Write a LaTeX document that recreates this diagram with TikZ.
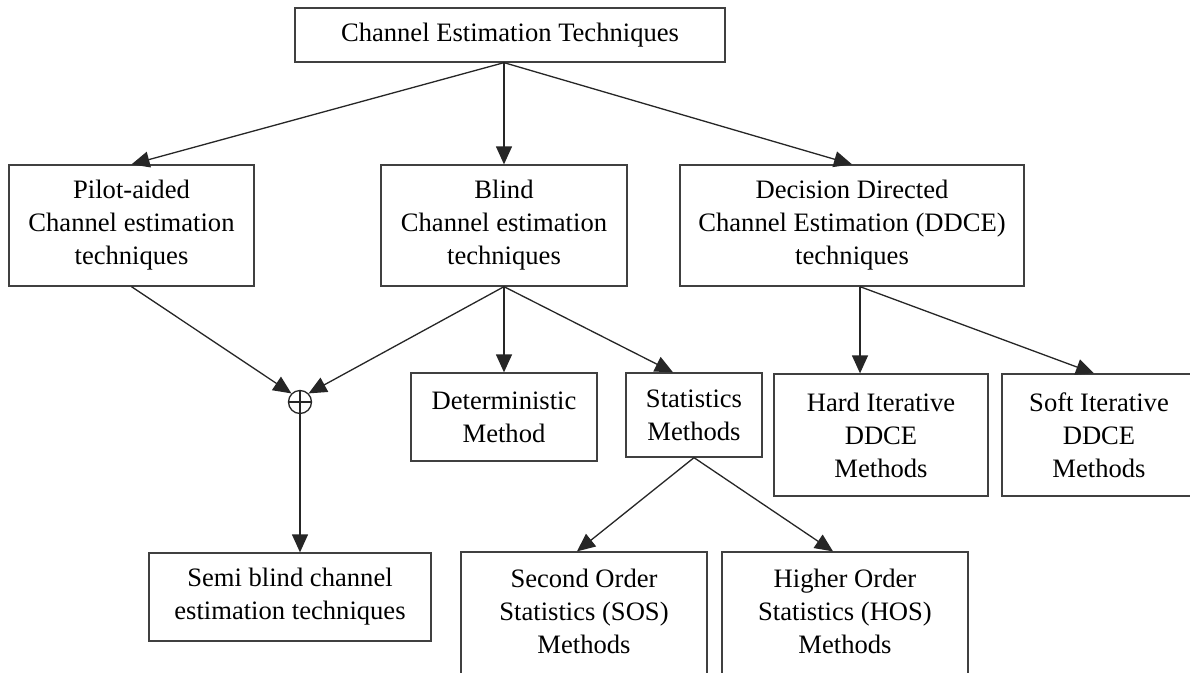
\documentclass[tikz,border=0pt]{standalone}
\usepackage{fontspec}
\setmainfont{Liberation Serif}
\usetikzlibrary{arrows.meta}

\tikzset{
  box/.style = {draw = black!75, line width = 1.3pt, align = center, inner sep = 0pt},
  link/.style = {-{Triangle[length=18pt,width=16pt]}, line width = 1.3pt, draw = black!85},
  junction/.style = {draw = black!85, line width = 1.3pt, circle, minimum size = 23pt, inner sep = 0pt,
    path picture = {\draw[line width = 1.3pt] (path picture bounding box.north) -- (path picture bounding box.south)
      (path picture bounding box.west) -- (path picture bounding box.east);}},
}

\begin{document}
\begin{tikzpicture}[x = 1pt, y = -1pt, font = \fontsize{26.6pt}{33pt}\selectfont]
    \path[use as bounding box, fill = white] (0,0) rectangle (1190,672);

    % first level
    \node[box, minimum width = 430, minimum height = 54](top) at (510,35) {Channel Estimation Techniques};
    \node[box, minimum width = 245, minimum height = 121](pilot) at (131.5,225.5) {Pilot-aided \\ Channel estimation \\ techniques};
    \node[box, minimum width = 246, minimum height = 121](blind) at (504,225.5) {Blind \\ Channel estimation \\ techniques};
    \node[box, minimum width = 344, minimum height = 121](ddce) at (852,225.5) {Decision Directed \\ Channel Estimation (DDCE) \\ techniques};

    % second level
    \node[junction](join) at (300,402) {};
    \node[box, minimum width = 186, minimum height = 88](determ) at (504,417) {Deterministic \\ Method};
    \node[box, minimum width = 136, minimum height = 84](stats) at (694,415) {Statistics \\ Methods};
    \node[box, minimum width = 214, minimum height = 122](hard) at (881,435) {Hard Iterative \\ DDCE \\ Methods};
    \node[box, minimum width = 194, minimum height = 122](soft) at (1099,435) {Soft Iterative \\ DDCE \\ Methods};

    % third level
    \node[box, minimum width = 282, minimum height = 88](semi) at (290,597) {Semi blind channel \\ estimation techniques};
    \node[box, minimum width = 246, minimum height = 132, text depth = 14pt](sos) at (584,618) {Second Order \\ Statistics (SOS) \\ Methods};
    \node[box, minimum width = 246, minimum height = 132, text depth = 14pt](hos) at (845,618) {Higher Order \\ Statistics (HOS) \\ Methods};

    \coordinate (split) at (blind.north |- top.south);
    \coordinate (ddcefoot) at ([xshift = 8pt]ddce.south);

    \draw [link] (split) -- (pilot.north);
    \draw [link] (split) -- (blind.north);
    \draw [link] (split) -- (ddce.north);

    \draw [link] (pilot.south) -- (join.north west);
    \draw [link] (blind.south) -- (join.north east);
    \draw [link] (join.south) -- (join.south |- semi.north);

    \draw [link] (blind.south) -- (determ.north);
    \draw [link] (blind.south) -- ([xshift = -21pt]stats.north);

    \draw [link] (stats.south) -- ([xshift = -7pt]sos.north);
    \draw [link] (stats.south) -- ([xshift = -12pt]hos.north);

    \draw [link] (ddcefoot) -- (ddcefoot |- hard.north);
    \draw [link] (ddcefoot) -- ([xshift = -5pt]soft.north);
\end{tikzpicture}
\end{document}
